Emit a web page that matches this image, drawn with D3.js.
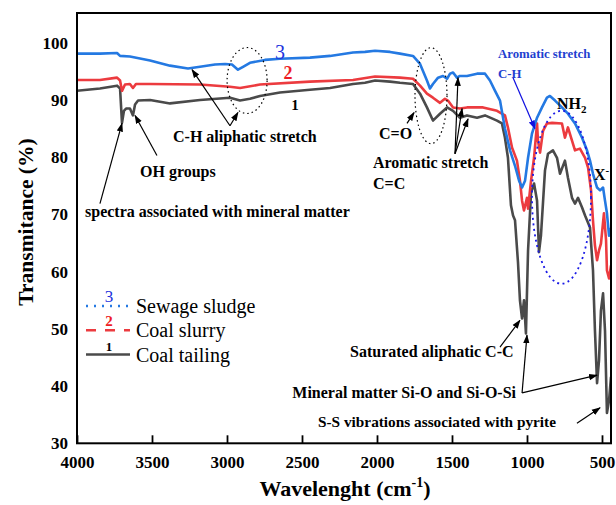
<!DOCTYPE html>
<html>
<head>
<meta charset="utf-8">
<script src="https://cdnjs.cloudflare.com/ajax/libs/d3/7.8.5/d3.min.js"></script>
<style>
  body { margin: 0; background: #fff; }
  text { font-family: "Liberation Serif", "Times New Roman", serif; }
</style>
</head>
<body>
<svg id="chart" width="616" height="505"></svg>
<script>
"use strict";

//
/* Data: */
//

// axis ticks
var xTicks = [4000, 3500, 3000, 2500, 2000, 1500, 1000, 500];
var yTicks = [30, 40, 50, 60, 70, 80, 90, 100];

// series names / numbers
var seriesNames = ["Sewage sludge", "Coal slurry", "Coal tailing"];
var seriesNums = ["3", "2", "1"];

// Coal tailing (1)
var tailingWn = [4000, 3847, 3733, 3713, 3700, 3687, 3673, 3647, 3627, 3613, 3593, 3513, 3380, 3180, 2980, 2913, 2847, 2780, 2647, 2447, 2313, 2160, 2080, 2013, 1913, 1847, 1760, 1713, 1667, 1627, 1580, 1533, 1493, 1447, 1400, 1333, 1280, 1200, 1167, 1147, 1127, 1107, 1093, 1080, 1060, 1047, 1033, 1020, 1007, 993, 973, 953, 933, 920, 907, 880, 860, 827, 800, 780, 747, 727, 700, 680, 660, 633, 613, 580, 560, 547, 533, 520, 507, 493, 480, 467, 453, 440];
var tailingT = [91.6, 92.0, 92.5, 92.0, 86.0, 88.1, 88.5, 88.5, 87.3, 89.2, 89.9, 90.0, 89.4, 90.0, 90.4, 89.9, 90.2, 90.7, 91.3, 91.8, 92.1, 92.8, 93.0, 93.4, 93.2, 93.0, 92.8, 91.1, 88.7, 86.4, 87.6, 88.7, 88.1, 86.9, 87.3, 86.9, 87.3, 86.4, 85.9, 83.4, 79.9, 71.6, 69.8, 69.0, 61.6, 55.0, 51.8, 55.0, 49.2, 63.7, 73.8, 75.4, 72.4, 63.4, 66.3, 77.7, 80.6, 81.2, 79.9, 77.1, 79.4, 76.4, 72.9, 71.9, 72.9, 71.2, 69.8, 67.7, 60.2, 49.7, 40.5, 44.5, 53.2, 56.2, 49.7, 35.3, 37.5, 41.6];

// Coal slurry (2)
var slurryWn = [4000, 3847, 3733, 3713, 3700, 3680, 3647, 3627, 3607, 3513, 3180, 2980, 2913, 2780, 2447, 2160, 2013, 1847, 1760, 1713, 1667, 1627, 1580, 1547, 1527, 1493, 1447, 1400, 1293, 1200, 1147, 1127, 1100, 1067, 1047, 1033, 1020, 1000, 993, 973, 953, 933, 927, 913, 893, 867, 833, 767, 747, 727, 700, 680, 647, 613, 593, 573, 560, 547, 533, 520, 507, 487, 473, 467, 453, 440];
var slurryT = [93.5, 93.5, 93.9, 93.4, 91.6, 92.7, 92.8, 92.1, 92.8, 92.8, 92.7, 92.3, 92.1, 92.7, 93.2, 93.5, 94.1, 93.9, 93.7, 92.5, 91.1, 90.4, 89.5, 90.2, 89.9, 88.7, 88.5, 88.7, 88.7, 88.1, 87.3, 85.2, 81.7, 79.4, 75.9, 72.4, 70.7, 72.9, 71.0, 75.9, 79.9, 85.9, 82.9, 80.8, 84.6, 85.9, 86.0, 85.9, 83.4, 85.2, 82.9, 81.2, 81.5, 79.9, 78.2, 74.2, 68.9, 64.6, 62.0, 63.7, 64.9, 70.2, 65.5, 60.2, 58.8, 61.1];

// Sewage sludge (3)
var sludgeWn = [4000, 3847, 3733, 3713, 3647, 3513, 3380, 3260, 3180, 3080, 3013, 2967, 2927, 2893, 2847, 2747, 2647, 2447, 2313, 2160, 2080, 2013, 1913, 1847, 1760, 1713, 1667, 1647, 1627, 1593, 1560, 1533, 1513, 1493, 1467, 1447, 1400, 1333, 1280, 1247, 1213, 1180, 1147, 1113, 1080, 1053, 1033, 1013, 993, 967, 933, 900, 867, 847, 813, 767, 727, 680, 633, 600, 580, 560, 533, 513, 493, 480, 467, 453, 440];
var sludgeT = [98.1, 98.1, 98.2, 97.7, 97.6, 96.9, 96.0, 95.5, 95.8, 96.2, 96.3, 96.2, 95.3, 95.8, 96.5, 97.0, 97.2, 97.4, 97.7, 98.3, 98.4, 98.6, 98.4, 98.1, 97.7, 96.3, 93.4, 92.0, 92.8, 93.9, 94.2, 93.7, 94.6, 94.8, 93.9, 94.2, 94.2, 94.6, 94.6, 93.4, 91.6, 89.9, 85.0, 81.2, 78.5, 75.9, 74.7, 75.9, 79.9, 84.1, 86.9, 88.7, 90.4, 90.7, 89.9, 88.7, 87.6, 85.9, 83.4, 81.2, 79.4, 77.1, 74.7, 74.2, 74.7, 72.4, 70.2, 66.3, 67.6];

//
/* Chart: */
//

var width = 616, height = 505;
var plot = { left: 77, right: 611, top: 13, bottom: 443.3 };

var svg = d3.select("#chart");
svg.append("rect").attr("width", width).attr("height", height).attr("fill", "#fff");

var x = d3.scaleLinear().domain([4000, 440]).range([plot.left, plot.right]);
var y = d3.scaleLinear().domain([30, 105.2]).range([plot.bottom, plot.top]);

var defs = svg.append("defs");
defs.append("clipPath").attr("id", "plotClip")
    .append("rect")
    .attr("x", plot.left).attr("y", plot.top)
    .attr("width", plot.right - plot.left).attr("height", plot.bottom - plot.top);

function addMarker(id, color) {
    defs.append("marker")
        .attr("id", id)
        .attr("viewBox", "0 0 10 10")
        .attr("refX", 9).attr("refY", 5)
        .attr("markerWidth", 9).attr("markerHeight", 9)
        .attr("markerUnits", "userSpaceOnUse")
        .attr("orient", "auto")
        .append("path")
        .attr("d", "M0,1.5 L10,5 L0,8.5 Z")
        .attr("fill", color);
}
addMarker("arrowBlack", "#000");
addMarker("arrowBlue", "#1010e0");

var series = [
    { wn: tailingWn, t: tailingT, color: "#4a4a4a" },
    { wn: slurryWn, t: slurryT, color: "#ec3b3f" },
    { wn: sludgeWn, t: sludgeT, color: "#2479e2" }
];

var line = d3.line()
    .x(function (d) { return x(d[0]); })
    .y(function (d) { return y(d[1]); });

svg.append("g")
    .attr("clip-path", "url(#plotClip)")
    .selectAll("path")
    .data(series)
    .enter()
    .append("path")
    .attr("d", function (s) { return line(d3.zip(s.wn, s.t)); })
    .attr("fill", "none")
    .attr("stroke", function (s) { return s.color; })
    .attr("stroke-width", 2.6)
    .attr("stroke-linejoin", "round");

// axes
var xAxis = svg.append("g")
    .attr("transform", "translate(0," + plot.bottom + ")")
    .call(d3.axisBottom(x).tickValues(xTicks).tickFormat(d3.format("d"))
        .tickSizeInner(-8).tickSizeOuter(0).tickPadding(13));
xAxis.select(".domain").remove();
xAxis.selectAll("line").attr("stroke", "#000").attr("stroke-width", 1.8);
xAxis.selectAll("text")
    .attr("font-size", 17).attr("font-weight", "bold")
    .style("font-family", "'Liberation Serif', serif").attr("fill", "#000");

var yAxis = svg.append("g")
    .attr("transform", "translate(" + plot.left + ",0)")
    .call(d3.axisLeft(y).tickValues(yTicks).tickFormat(d3.format("d")).tickSize(0).tickPadding(9));
yAxis.select(".domain").remove();
yAxis.selectAll("text")
    .attr("font-size", 17).attr("font-weight", "bold")
    .style("font-family", "'Liberation Serif', serif").attr("fill", "#000");

svg.append("rect")
    .attr("x", plot.left).attr("y", plot.top)
    .attr("width", plot.right - plot.left).attr("height", plot.bottom - plot.top)
    .attr("fill", "none").attr("stroke", "#000").attr("stroke-width", 2);

// axis titles
svg.append("text")
    .attr("transform", "translate(33,222) rotate(-90)")
    .attr("text-anchor", "middle")
    .attr("font-size", 21.5).attr("font-weight", "bold")
    .text("Transmitance (%)");

var xt = svg.append("text")
    .attr("x", 345).attr("y", 496)
    .attr("text-anchor", "middle")
    .attr("font-size", 22).attr("font-weight", "bold");
xt.append("tspan").text("Wavelenght (cm");
xt.append("tspan").attr("dy", -9).attr("font-size", 14).text("-1");
xt.append("tspan").attr("dy", 9).text(")");

//
/* Annotations: */
//

var ellipses = [
    { wn: 2866, t: 93.4, rx: 20, ry: 33, color: "#000" },
    { wn: 1640, t: 90.75, rx: 16, ry: 48, color: "#000" },
    { wn: 770, t: 73.0, rx: 29.5, ry: 86.5, color: "#1a1ae6" }
];
svg.append("g").selectAll("ellipse")
    .data(ellipses)
    .enter()
    .append("ellipse")
    .attr("cx", function (d) { return x(d.wn); })
    .attr("cy", function (d) { return y(d.t); })
    .attr("rx", function (d) { return d.rx; })
    .attr("ry", function (d) { return d.ry; })
    .attr("fill", "none")
    .attr("stroke", function (d) { return d.color; })
    .attr("stroke-width", function (d) { return d.color === "#000" ? 1.2 : 1.8; })
    .attr("stroke-dasharray", function (d) { return d.color === "#000" ? "1.5,3" : "2,3.5"; });

var arrows = [
    { from: [2980, 85.5], to: [3233, 95.3] },
    { from: [2980, 85.5], to: [2927, 87.8] },
    { from: [3467, 80.3], to: [3613, 87.3] },
    { from: [3847, 71.9], to: [3700, 85.9] },
    { from: [1800, 85.9], to: [1753, 87.8] },
    { from: [1480, 80.6], to: [1460, 93.9] },
    { from: [1480, 80.6], to: [1433, 88.5] },
    { from: [1480, 80.6], to: [1393, 86.7] },
    { from: [1093, 93.9], to: [947, 85.0], blue: true },
    { from: [1180, 46.8], to: [1047, 51.5] },
    { from: [1033, 38.8], to: [1000, 48.9] },
    { from: [1033, 38.8], to: [533, 41.9] },
    { from: [667, 33.5], to: [513, 36.2] }
];
svg.append("g").selectAll("line")
    .data(arrows)
    .enter()
    .append("line")
    .attr("x1", function (d) { return x(d.from[0]); })
    .attr("y1", function (d) { return y(d.from[1]); })
    .attr("x2", function (d) { return x(d.to[0]); })
    .attr("y2", function (d) { return y(d.to[1]); })
    .attr("stroke", function (d) { return d.blue ? "#1010e0" : "#000"; })
    .attr("stroke-width", 1.2)
    .attr("marker-end", function (d) { return d.blue ? "url(#arrowBlue)" : "url(#arrowBlack)"; });

var labels = [
    { x: 173, y: 142, s: "C-H aliphatic stretch" },
    { x: 140, y: 177, s: "OH groups" },
    { x: 85, y: 217, s: "spectra associated with mineral matter" },
    { x: 379, y: 139, s: "C=O" },
    { x: 373, y: 168, s: "Aromatic stretch" },
    { x: 373, y: 189, s: "C=C" },
    { x: 498, y: 58, s: "Aromatic stretch", size: 12.8, color: "#1f3fd0" },
    { x: 498, y: 78, s: "C-H", size: 12.8, color: "#1f3fd0" },
    { x: 350, y: 357, s: "Saturated aliphatic C-C" },
    { x: 516, y: 398, s: "Mineral matter Si-O and Si-O-Si", anchor: "end" },
    { x: 318, y: 427, s: "S-S vibrations associated with pyrite", size: 15.3 }
];
svg.append("g").selectAll("text")
    .data(labels)
    .enter()
    .append("text")
    .attr("x", function (d) { return d.x; })
    .attr("y", function (d) { return d.y; })
    .attr("text-anchor", function (d) { return d.anchor || "start"; })
    .attr("font-size", function (d) { return d.size || 16; })
    .attr("font-weight", "bold")
    .attr("fill", function (d) { return d.color || "#000"; })
    .text(function (d) { return d.s; });

var nh = svg.append("text").attr("x", 557).attr("y", 109).attr("font-size", 16).attr("font-weight", "bold");
nh.append("tspan").text("NH");
nh.append("tspan").attr("dy", 4).attr("font-size", 11).text("2");

var xm = svg.append("text").attr("x", 594).attr("y", 180).attr("font-size", 16).attr("font-weight", "bold");
xm.append("tspan").text("X");
xm.append("tspan").attr("dy", -6).attr("font-size", 11).text("-");

// series numbers on curves
var curveNums = [
    { x: 280, y: 59, size: 20, weight: "normal", color: "#2233dd" },
    { x: 288, y: 79, size: 18, weight: "bold", color: "#ee1c24" },
    { x: 295, y: 110, size: 15, weight: "bold", color: "#000" }
];
svg.append("g").selectAll("text")
    .data(curveNums)
    .enter()
    .append("text")
    .attr("x", function (d) { return d.x; })
    .attr("y", function (d) { return d.y; })
    .attr("text-anchor", "middle")
    .attr("font-size", function (d) { return d.size; })
    .attr("font-weight", function (d) { return d.weight; })
    .attr("fill", function (d) { return d.color; })
    .text(function (d, i) { return seriesNums[i]; });

// legend
var legendStyles = [
    { color: "#2479e2", dash: "2,6", numColor: "#2233dd", numSize: 17, numWeight: "normal" },
    { color: "#ec3b3f", dash: "10,9", numColor: "#ee1c24", numSize: 15, numWeight: "bold" },
    { color: "#4a4a4a", dash: null, numColor: "#000", numSize: 13, numWeight: "bold" }
];
var legend = svg.append("g").attr("transform", "translate(86,306)");
var item = legend.selectAll("g")
    .data(seriesNames)
    .enter()
    .append("g")
    .attr("transform", function (d, i) { return "translate(0," + (i * 24.3) + ")"; });
item.append("line")
    .attr("x1", 0).attr("x2", 44).attr("y1", 0).attr("y2", 0)
    .attr("stroke", function (d, i) { return legendStyles[i].color; })
    .attr("stroke-width", 2.5)
    .attr("stroke-dasharray", function (d, i) { return legendStyles[i].dash; });
item.append("text")
    .attr("x", 23).attr("y", -4)
    .attr("text-anchor", "middle")
    .attr("font-size", function (d, i) { return legendStyles[i].numSize; })
    .attr("font-weight", function (d, i) { return legendStyles[i].numWeight; })
    .attr("fill", function (d, i) { return legendStyles[i].numColor; })
    .text(function (d, i) { return seriesNums[i]; });
item.append("text")
    .attr("x", 50).attr("y", 7)
    .attr("font-size", 20)
    .attr("fill", "#000")
    .text(function (d) { return d; });
</script>
</body>
</html>
